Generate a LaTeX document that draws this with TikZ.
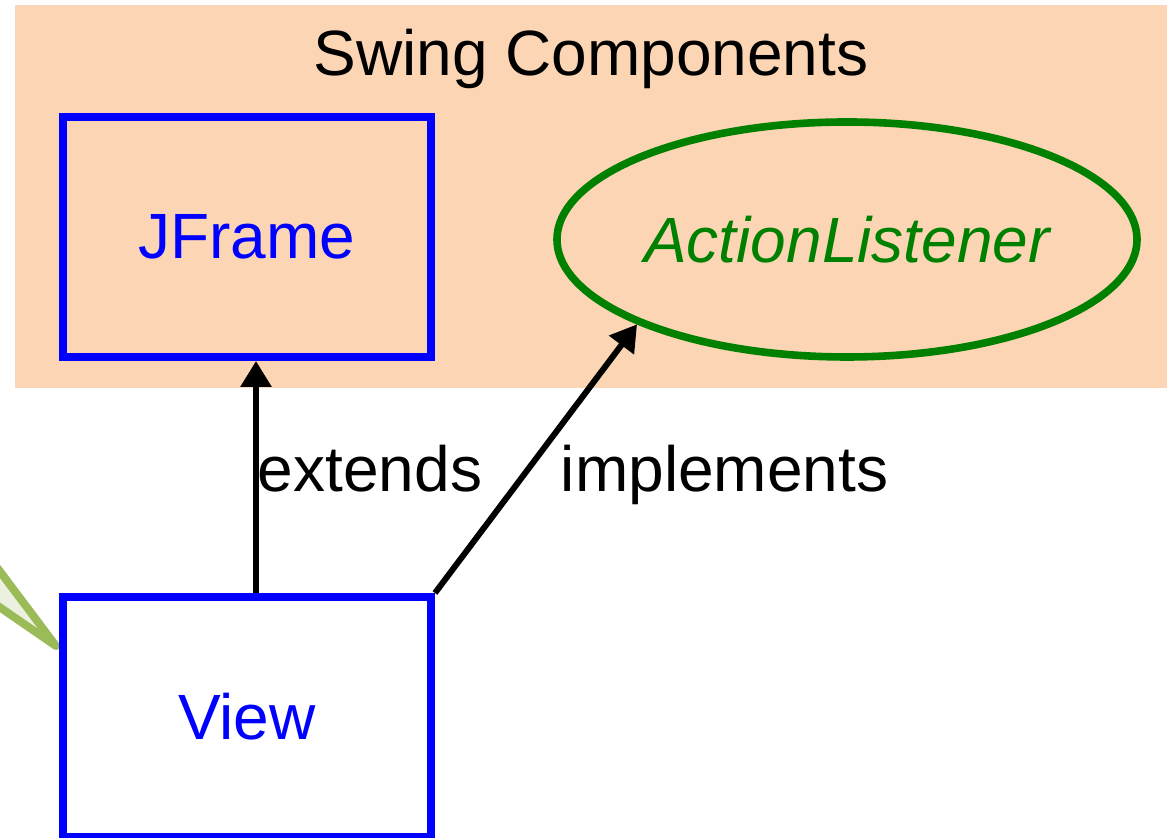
\documentclass[tikz,border=0pt]{standalone}
\usepackage{fontspec}
\setmainfont{Liberation Sans}
\usetikzlibrary{shapes.geometric, arrows.meta, positioning}
\definecolor{swingbg}{RGB}{252,213,180}
\definecolor{classblue}{RGB}{0,0,255}
\definecolor{ifacegreen}{RGB}{0,128,0}
\definecolor{tailline}{RGB}{155,187,89}
\definecolor{tailfill}{RGB}{235,241,222}
\tikzset{
    classbox/.style={
        rectangle, draw=classblue, line width=4pt,
        minimum width=184pt, minimum height=120pt,
        text=classblue, font=\fontsize{32}{38}\selectfont
    },
    iface/.style={
        ellipse, draw=ifacegreen, line width=3.8pt,
        minimum width=290pt, minimum height=117.5pt, inner sep=0pt,
        text=ifacegreen, font=\fontsize{32}{38}\selectfont\itshape
    },
    wire/.style={draw=black, line width=3pt, -{Triangle[length=13pt,width=15pt]}},
    wirelabel/.style={anchor=base, font=\fontsize{32}{38}\selectfont}
}

\begin{document}
\begin{tikzpicture}[x=50pt, y=50pt]
\useasboundingbox (0,0) rectangle (11.67,8.38);
\clip (0,0) rectangle (11.67,8.38);

% Swing package band
\fill[swingbg] (0.15,4.50) rectangle (11.67,8.33);
\node[wirelabel] (swing) at (5.91,7.62) {Swing Components};

% Callout tail coming in from the left
\filldraw[draw=tailline, fill=tailfill, line width=4pt, line join=round]
    (0.56,1.92) -- (-0.5,3.33) -- (-0.5,2.65) -- cycle;

% Classes
\node[classbox] (jframe) at (2.47,6.01) {JFrame};
\node[iface] (listener) at (8.47,5.985) {ActionListener};
\node[classbox, fill=white] (view) at (2.47,1.21) {View};

% Relations
\draw[wire] ([xshift=4.5pt]view.north) -- ([xshift=4.5pt]jframe.south);
\draw[wire] (view.north east) -- (listener.202);

\node[wirelabel] (extends) at (3.70,3.46) {extends};
\node[wirelabel] (implements) at (7.245,3.46) {implements};

\end{tikzpicture}
\end{document}
